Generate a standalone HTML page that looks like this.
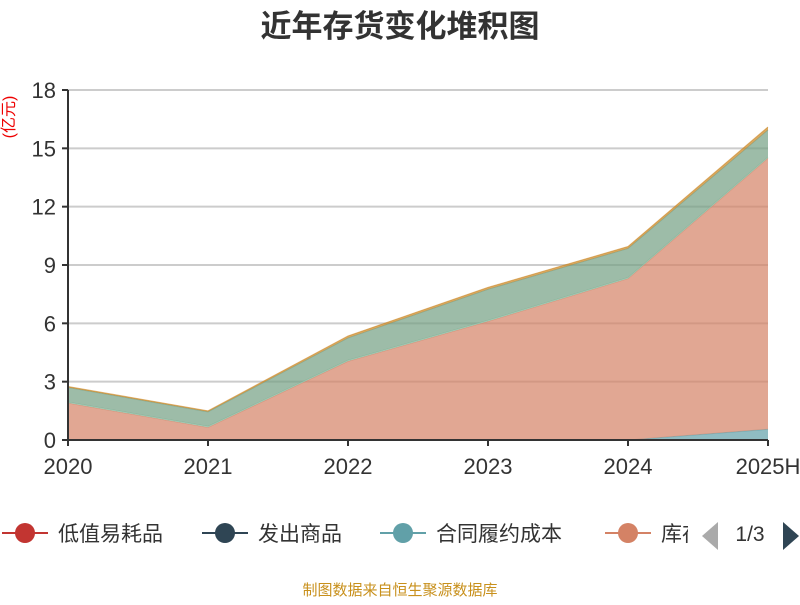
<!DOCTYPE html>
<html><head><meta charset="utf-8"><style>
body{margin:0;background:#fff;width:800px;height:600px;overflow:hidden;font-family:"Liberation Sans","Noto Sans CJK SC",sans-serif}
</style></head><body>
<svg width="800" height="600" xmlns="http://www.w3.org/2000/svg">
<text x="400" y="37" text-anchor="middle" font-size="31" font-weight="bold" fill="#333" font-family="Liberation Sans,Noto Sans CJK SC,sans-serif">近年存货变化堆积图</text>
<text transform="translate(14,117) rotate(-90)" text-anchor="middle" font-size="16" fill="#e00" font-family="Liberation Sans,Noto Sans CJK SC,sans-serif">(亿元)</text>
<g id="grid"></g><g id="areas"></g><g id="axes"></g><g id="legend"></g>
<text x="400" y="595" text-anchor="middle" font-size="15" fill="#c8901c" font-family="Liberation Sans,Noto Sans CJK SC,sans-serif">制图数据来自恒生聚源数据库</text>
</svg>
<script>
const categories=["2020","2021","2022","2023","2024","2025H"];
const yTicks=[0,3,6,9,12,15,18];
const seriesNames=["低值易耗品","发出商品","合同履约成本","库存商品","原材料","在产品","委托加工物资"];
const seriesColors=["#c23531","#2f4554","#61a0a8","#d48265","#91c7ae","#749f83","#ca8622"];
const s0=[0,0,0,0,0,0];
const s1=[0,0,0,0,0,0];
const s2=[0,0,0,0,0,0.55];
const s3=[1.9,0.65,4.05,6.1,8.3,13.95];
const s4=[0.05,0.05,0.05,0.05,0.05,0.05];
const s5=[0.75,0.75,1.15,1.6,1.5,1.4];
const s6=[0.05,0.05,0.1,0.1,0.1,0.15];
const series=[s0,s1,s2,s3,s4,s5,s6];
const NS="http://www.w3.org/2000/svg";
const x0=68,x1=768,y0=440,y1=90,yMax=18;
const xs=i=>x0+i*(x1-x0)/(categories.length-1);
const ys=v=>y0-v/yMax*(y0-y1);
function mk(t,a,p){const e=document.createElementNS(NS,t);for(const k in a)e.setAttribute(k,a[k]);p.appendChild(e);return e;}
const grid=document.getElementById('grid'),axes=document.getElementById('axes'),areas=document.getElementById('areas'),legend=document.getElementById('legend');
yTicks.forEach(t=>{
 if(t>0){const l=mk('line',{x1:x0,x2:x1,y1:ys(t),y2:ys(t),stroke:'#ccc','stroke-width':2},grid);
 
 }
 const tk=mk('line',{x1:x0-6,x2:x0,y1:ys(t),y2:ys(t),stroke:'#333','stroke-width':2},axes);
 
 
 const tx=mk('text',{x:x0-12,y:ys(t)+8,'text-anchor':'end','font-size':22,fill:'#333'},axes);tx.textContent=t;
 
 
});
let base=categories.map(()=>0);
series.forEach((s,k)=>{
 const top=s.map((v,i)=>base[i]+v);
 let d='M'+top.map((v,i)=>xs(i)+','+ys(v)).join('L');
 for(let i=categories.length-1;i>=0;i--)d+='L'+xs(i)+','+ys(base[i]);
 const p=mk('path',{d:d+'Z',fill:seriesColors[k],'fill-opacity':0.7,stroke:'none'},areas);
 
 
 const ln=mk('polyline',{points:top.map((v,i)=>xs(i)+','+ys(v)).join(' '),fill:'none',stroke:seriesColors[k],'stroke-width':1,'stroke-opacity':0.6},areas);
 
 
 base=top;
});
const ya=mk('line',{x1:x0,x2:x0,y1:y1,y2:y0,stroke:'#333','stroke-width':2},axes);


const xa=mk('line',{x1:x0,x2:x1,y1:y0,y2:y0,stroke:'#333','stroke-width':2},axes);


categories.forEach((c,i)=>{
 const tk=mk('line',{x1:xs(i),x2:xs(i),y1:y0,y2:y0+6,stroke:'#333','stroke-width':2},axes);
 
 
 const tx=mk('text',{x:xs(i),y:y0+34,'text-anchor':'middle','font-size':22,fill:'#333'},axes);tx.textContent=c;
 
 
});
const lx=[2,202,380,605];
for(let k=0;k<4;k++){
 const g=mk('g',{},legend);
 
 
 mk('line',{x1:lx[k],x2:lx[k]+46,y1:533,y2:533,stroke:seriesColors[k],'stroke-width':2},g);
 mk('circle',{cx:lx[k]+23,cy:533,r:10,fill:seriesColors[k]},g);
 const t=mk('text',{x:lx[k]+56,y:541,'font-size':21,fill:'#333'},g);t.textContent=seriesNames[k];
}
const cp=mk('clipPath',{id:'lc'},legend);mk('rect',{x:0,y:510,width:688,height:50},cp);
legend.lastChild&&legend.querySelectorAll('g')[3].setAttribute('clip-path','url(#lc)');
const pl=mk('path',{d:'M718,522L702,536L718,550Z',fill:'#aaa'},legend);


const pt=mk('text',{x:750,y:541,'text-anchor':'middle','font-size':21,fill:'#333'},legend);pt.textContent='1/3';


const pr=mk('path',{d:'M783,522L799,536L783,550Z',fill:'#2f4554'},legend);


</script>
</body></html>
